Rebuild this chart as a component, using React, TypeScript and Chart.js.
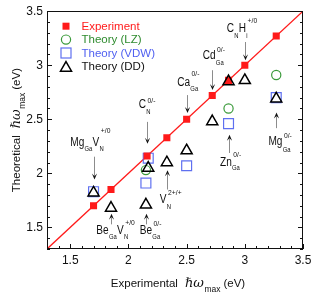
import React, { useEffect, useRef } from 'react';
import { Chart, registerables } from 'chart.js';

Chart.register(...registerables);

// ---------- data ----------
const X_MIN = 1.3;
const X_MAX = 3.5;
const Y_MIN = 1.3;
const Y_MAX = 3.5;
const xTicks = [1.5, 2, 2.5, 3, 3.5];
const yTicks = [1.5, 2, 2.5, 3, 3.5];

const seriesNames = ['Experiment', 'Theory (LZ)', 'Theory (VDW)', 'Theory (DD)'];

const expX = [1.70, 1.85, 2.16, 2.33, 2.50, 2.72, 2.86, 3.00, 3.27];
const expY = [1.70, 1.85, 2.16, 2.33, 2.50, 2.72, 2.86, 3.00, 3.27];
const lzX = [2.15, 2.86, 3.27];
const lzY = [2.03, 2.60, 2.91];
const vdwX = [1.70, 2.15, 2.17, 2.50, 2.86, 3.27];
const vdwY = [1.83, 1.91, 2.14, 2.07, 2.46, 2.70];
const ddX = [1.70, 1.85, 2.15, 2.17, 2.33, 2.50, 2.72, 2.86, 3.00, 3.27];
const ddY = [1.82, 1.68, 1.71, 2.05, 2.10, 2.21, 2.48, 2.85, 2.86, 2.69];
const guideX = [1.3, 3.5]; // y = x line

type Run = [string, 'b' | 's' | 'p'];
const annText: Run[][] = [
  [['Mg', 'b'], ['Ga', 's'], ['V', 'b'], ['N', 's'], ['+/0', 'p']],
  [['C', 'b'], ['N', 's'], ['0/-', 'p']],
  [['Ca', 'b'], ['Ga', 's'], ['0/-', 'p']],
  [['Cd', 'b'], ['Ga', 's'], ['0/-', 'p']],
  [['C', 'b'], ['N', 's'], ['H', 'b'], ['i', 's'], ['+/0', 'p']],
  [['Zn', 'b'], ['Ga', 's'], ['0/-', 'p']],
  [['Mg', 'b'], ['Ga', 's'], ['0/-', 'p']],
  [['V', 'b'], ['N', 's'], ['2+/+', 'p']],
  [['Be', 'b'], ['Ga', 's'], ['V', 'b'], ['N', 's'], ['+/0', 'p']],
  [['Be', 'b'], ['Ga', 's'], ['0/-', 'p']],
];
// label anchor (data coords of start of baseline)
const annAt: [number, number][] = [
  [1.50, 2.255], [2.089, 2.602], [2.419, 2.807], [2.638, 3.054], [2.845, 3.307],
  [2.787, 2.071], [3.203, 2.264], [2.27, 1.728], [1.724, 1.443], [2.097, 1.437],
];
// [sub offset, sup offset] in px
const annShift: [number, number][] = [
  [5.7, -12.7], [5.7, -5.0], [5, -10], [5.5, -7.6], [6, -9.4],
  [4.5, -8.5], [7, -6.5], [6.7, -7.6], [5, -8.6], [5, -8.3],
];
// arrows: x, y start, y tip (data coords)
const annArrow: [number, number, number][] = [
  [1.70, 2.154, 1.942], [2.16, 2.476, 2.274], [2.50, 2.724, 2.559], [2.72, 2.954, 2.77],
  [3.00, 3.215, 3.046], [2.86, 2.188, 2.356], [3.27, 2.418, 2.562], [2.33, 1.85, 2.028],
  [1.85, 1.528, 1.627], [2.15, 1.528, 1.627],
];

// ---------- styles ----------
const FONT = "'Liberation Sans', Arial, Helvetica, sans-serif";
const RED = '#ff1a1a';
const GREEN = '#3a9a3a';
const BLUE = '#5f70f0';
const TEXT_GREEN = '#2e8b2e';
const TEXT_BLUE = '#5060f0';
const LABEL_SQUEEZE = 0.84;

const pts = (xs: number[], ys: number[]) => xs.map((x, i) => ({ x, y: ys[i] }));

function drawArrow(ctx: CanvasRenderingContext2D, x: number, y0: number, y1: number) {
  const dir = Math.sign(y1 - y0);
  const head = 6;
  const hw = 2.6;
  const cx = Math.round(x) + 0.5;
  ctx.save();
  ctx.strokeStyle = '#8c8c8c';
  ctx.lineWidth = 1;
  ctx.beginPath();
  ctx.moveTo(cx, y0);
  ctx.lineTo(cx, y1 - dir * head * 0.6);
  ctx.stroke();
  ctx.fillStyle = '#111';
  ctx.beginPath();
  ctx.moveTo(cx, y1);
  ctx.lineTo(cx - hw, y1 - dir * head);
  ctx.lineTo(cx, y1 - dir * head * 0.55);
  ctx.lineTo(cx + hw, y1 - dir * head);
  ctx.closePath();
  ctx.fill();
  ctx.restore();
}

function drawLabel(ctx: CanvasRenderingContext2D, runs: Run[], x: number, y: number, subDy: number, supDy: number) {
  let cx = 0;
  let subX: number | null = null;
  ctx.save();
  ctx.translate(x, y);
  ctx.scale(LABEL_SQUEEZE, 1);
  ctx.fillStyle = '#111';
  ctx.textAlign = 'left';
  ctx.textBaseline = 'alphabetic';
  for (const [t, k] of runs) {
    if (k === 'b') {
      ctx.font = `12px ${FONT}`;
      ctx.fillText(t, cx, 0);
      cx += ctx.measureText(t).width;
      subX = null;
    } else if (k === 's') {
      ctx.font = `7px ${FONT}`;
      const sx = cx + 0.3;
      ctx.fillText(t, sx, subDy);
      subX = sx;
      cx = sx + ctx.measureText(t).width + 0.3;
    } else {
      ctx.font = `8px ${FONT}`;
      const px = subX !== null ? subX + 1.5 : cx;
      ctx.fillText(t, px, supDy);
      cx = Math.max(cx, px + ctx.measureText(t).width);
    }
  }
  ctx.restore();
}

type TRun = { t: string; f: string; dy: number; gap: number };
const titleRuns = (word: string): TRun[] => [
  { t: word, f: `11.5px ${FONT}`, dy: 0, gap: 0 },
  { t: '\u210F\u03C9', f: `italic 13px 'DejaVu Serif', serif`, dy: 0, gap: 7 },
  { t: 'max', f: `8.5px ${FONT}`, dy: 4.5, gap: 0.5 },
  { t: '(eV)', f: `11.5px ${FONT}`, dy: 0, gap: 3 },
];

function drawTitle(ctx: CanvasRenderingContext2D, runs: TRun[], cx: number, by: number) {
  let total = 0;
  const widths = runs.map((r) => {
    ctx.font = r.f;
    const w = ctx.measureText(r.t).width;
    total += r.gap + w;
    return w;
  });
  let x = cx - total / 2;
  ctx.textAlign = 'left';
  ctx.textBaseline = 'alphabetic';
  runs.forEach((r, i) => {
    x += r.gap;
    ctx.font = r.f;
    ctx.fillText(r.t, x, by + r.dy);
    x += widths[i];
  });
}

function drawMarker(ctx: CanvasRenderingContext2D, kind: number, x: number, y: number) {
  ctx.save();
  if (kind === 0) {
    ctx.fillStyle = RED;
    ctx.fillRect(x - 3.5, y - 3.5, 7, 7);
  } else if (kind === 1) {
    ctx.strokeStyle = GREEN;
    ctx.lineWidth = 1.2;
    ctx.beginPath();
    ctx.arc(x, y, 4.6, 0, Math.PI * 2);
    ctx.stroke();
  } else if (kind === 2) {
    ctx.strokeStyle = BLUE;
    ctx.lineWidth = 1.2;
    ctx.strokeRect(x - 5, y - 5, 10, 10);
  } else {
    ctx.strokeStyle = '#000';
    ctx.lineWidth = 1.5;
    const r = 6.4;
    const cy = y + r / 4;
    ctx.beginPath();
    ctx.moveTo(x, cy - r);
    ctx.lineTo(x + r * Math.sin((2 * Math.PI) / 3), cy + r / 2);
    ctx.lineTo(x - r * Math.sin((2 * Math.PI) / 3), cy + r / 2);
    ctx.closePath();
    ctx.stroke();
  }
  ctx.restore();
}

const overlay = {
  id: 'overlay',
  afterDatasetsDraw(chart: any) {
    const { ctx, chartArea: a, scales } = chart;
    const xs = scales.x;
    const ys = scales.y;
    ctx.save();
    // frame
    ctx.strokeStyle = '#111';
    ctx.lineWidth = 1;
    ctx.strokeRect(Math.round(a.left) + 0.5, Math.round(a.top) + 0.5,
      Math.round(a.right) - Math.round(a.left) - 1, Math.round(a.bottom) - Math.round(a.top) - 1);
    // inward ticks (bottom, left, right)
    ctx.beginPath();
    for (let i = Math.round(X_MIN * 10); i <= Math.round(X_MAX * 10); i++) {
      const v = i / 10;
      const major = xTicks.some((t) => Math.abs(t - v) < 1e-6);
      const len = major ? 5 : 3;
      const px = Math.round(xs.getPixelForValue(v)) + 0.5;
      ctx.moveTo(px, a.bottom);
      ctx.lineTo(px, a.bottom - len);
    }
    for (let i = Math.round(Y_MIN * 10); i <= Math.round(Y_MAX * 10); i++) {
      const v = i / 10;
      const major = yTicks.some((t) => Math.abs(t - v) < 1e-6);
      const len = major ? 5 : 3;
      const py = Math.round(ys.getPixelForValue(v)) + 0.5;
      ctx.moveTo(a.left, py);
      ctx.lineTo(a.left + len, py);
      ctx.moveTo(a.right, py);
      ctx.lineTo(a.right - len, py);
    }
    ctx.stroke();
    ctx.restore();
  },
  afterDraw(chart: any) {
    const { ctx, chartArea: a, scales } = chart;
    const xs = scales.x;
    const ys = scales.y;
    ctx.save();
    // annotations
    annText.forEach((runs, i) => {
      const [ax, ay] = annAt[i];
      const [sd, pd] = annShift[i];
      drawLabel(ctx, runs, xs.getPixelForValue(ax), ys.getPixelForValue(ay), sd, pd);
      const [arx, ary0, ary1] = annArrow[i];
      drawArrow(ctx, xs.getPixelForValue(arx), ys.getPixelForValue(ary0), ys.getPixelForValue(ary1));
    });
    // legend
    const colors = [RED, TEXT_GREEN, TEXT_BLUE, '#111'];
    seriesNames.forEach((name, i) => {
      const ly = a.top + 15 + i * 13.4;
      drawMarker(ctx, i, a.left + 19, ly);
      ctx.fillStyle = colors[i];
      ctx.font = `11.5px ${FONT}`;
      ctx.textAlign = 'left';
      ctx.textBaseline = 'middle';
      ctx.fillText(name, a.left + 34.5, ly + 0.5);
    });
    // axis titles
    ctx.fillStyle = '#111';
    drawTitle(ctx, titleRuns('Experimental'), (a.left + a.right) / 2 + 3, 287);
    ctx.save();
    ctx.translate(20, (a.top + a.bottom) / 2);
    ctx.rotate(-Math.PI / 2);
    drawTitle(ctx, titleRuns('Theoretical'), 0, 0);
    ctx.restore();
    ctx.restore();
  },
};

export default function App() {
  const ref = useRef<HTMLCanvasElement | null>(null);
  useEffect(() => {
    document.body.style.margin = '0';
    const canvas = ref.current;
    if (!canvas) return;
    const chart = new Chart(canvas, {
      type: 'scatter',
      data: {
        datasets: [
          {
            label: seriesNames[3],
            data: pts(ddX, ddY),
            pointStyle: 'triangle',
            pointRadius: 6.4,
            borderColor: '#000',
            backgroundColor: 'rgba(0,0,0,0)',
            borderWidth: 1.5,
            order: 0,
          },
          {
            label: seriesNames[0],
            data: pts(expX, expY),
            pointStyle: 'rect',
            pointRadius: 5,
            borderColor: RED,
            backgroundColor: RED,
            borderWidth: 0,
            order: 1,
          },
          {
            label: seriesNames[2],
            data: pts(vdwX, vdwY),
            pointStyle: 'rect',
            pointRadius: 7,
            borderColor: BLUE,
            backgroundColor: 'rgba(0,0,0,0)',
            borderWidth: 1.2,
            order: 2,
          },
          {
            label: seriesNames[1],
            data: pts(lzX, lzY),
            pointStyle: 'circle',
            pointRadius: 4.6,
            borderColor: GREEN,
            backgroundColor: 'rgba(0,0,0,0)',
            borderWidth: 1.2,
            order: 3,
          },
          {
            label: 'y = x',
            data: pts(guideX, guideX),
            showLine: true,
            pointRadius: 0,
            borderColor: RED,
            borderWidth: 1.3,
            order: 4,
          },
        ],
      },
      options: {
        responsive: false,
        animation: false,
        devicePixelRatio: 1,
        layout: { padding: { top: 10, right: 20, left: 0, bottom: 0 } },
        plugins: { legend: { display: false }, tooltip: { enabled: false } },
        scales: {
          x: {
            type: 'linear',
            min: X_MIN,
            max: X_MAX,
            afterFit: (s: any) => { s.height = 52; },
            afterBuildTicks: (s: any) => { s.ticks = xTicks.map((v) => ({ value: v })); },
            grid: { display: false, drawTicks: false },
            border: { display: false },
            ticks: {
              padding: 4,
              color: '#111',
              font: { family: FONT, size: 12 },
              maxRotation: 0,
              callback: (v: any) => String(v),
            },
          },
          y: {
            type: 'linear',
            min: Y_MIN,
            max: Y_MAX,
            afterFit: (s: any) => { s.width = 47; },
            afterBuildTicks: (s: any) => { s.ticks = yTicks.map((v) => ({ value: v })); },
            grid: { display: false, drawTicks: false },
            border: { display: false },
            ticks: {
              padding: 4,
              color: '#111',
              font: { family: FONT, size: 12 },
              callback: (v: any) => String(v),
            },
          },
        },
      },
      plugins: [overlay],
    } as any);
    return () => chart.destroy();
  }, []);
  return <canvas ref={ref} width={323} height={301} style={{ display: 'block' }} />;
}
